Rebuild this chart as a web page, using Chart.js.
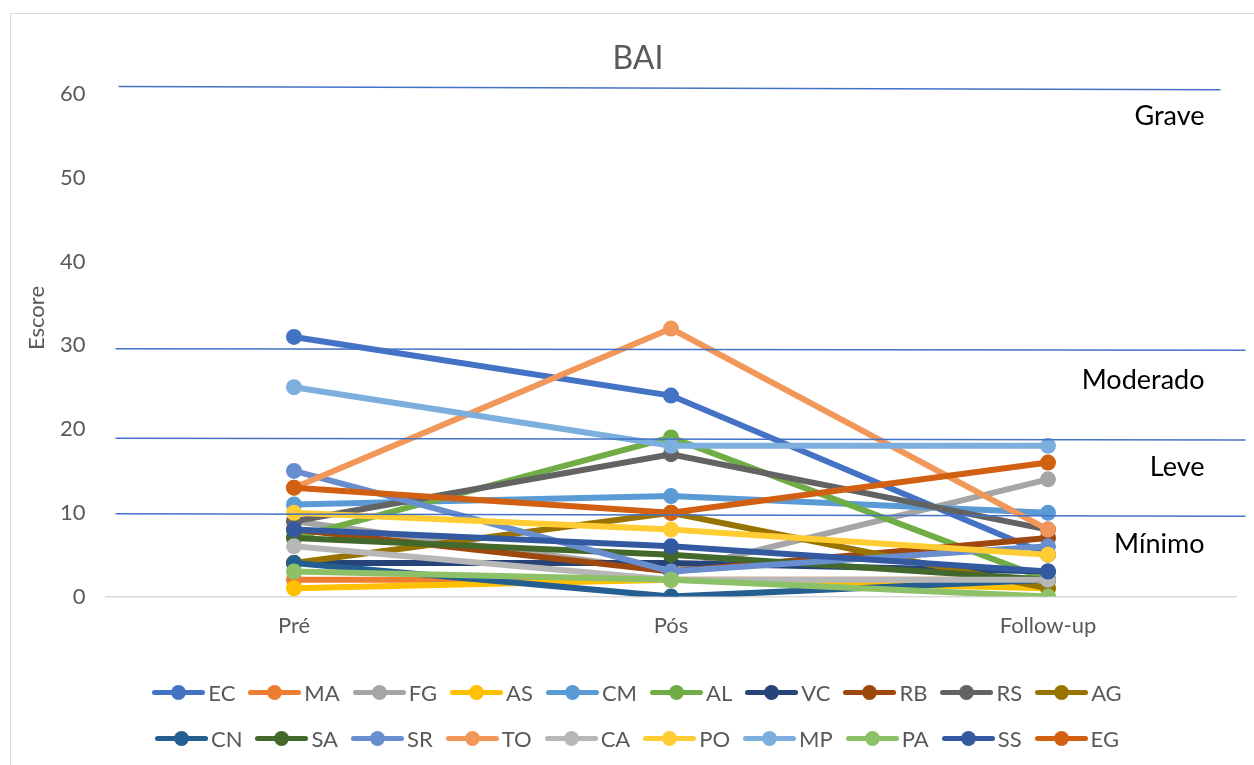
<!DOCTYPE html>
<html lang="pt">
<head>
<meta charset="utf-8">
<title>BAI</title>
<script src="https://cdn.jsdelivr.net/npm/chart.js@4/dist/chart.umd.min.js"></script>
<style>
    html, body {
        margin: 0;
        padding: 0;
        background: #fff;
        font-family: Lato, "Open Sans", sans-serif;
    }
    .chart-card {
        position: relative;
        width: 1254px;
        height: 765px;
        overflow: hidden;
    }
    .chart-frame {
        position: absolute;
        left: 10px;
        top: 13px;
        width: 1300px;
        height: 800px;
        border: 1px solid #d9d9d9;
    }
    #baiChart {
        position: absolute;
        left: 0;
        top: 0;
    }
    .legend {
        position: absolute;
        left: 0;
        top: 669px;
        width: 1274px;
    }
    .legend-row {
        display: flex;
        justify-content: center;
        align-items: center;
        height: 46px;
    }
    .legend-item {
        display: flex;
        align-items: center;
        margin: 0 6.5px;
        color: #595959;
        font-size: 22px;
    }
    .swatch {
        position: relative;
        width: 53px;
        height: 16px;
        margin-right: 3px;
    }
    .swatch .line {
        position: absolute;
        left: 0;
        right: 0;
        top: 5.5px;
        height: 5px;
        border-radius: 2.5px;
    }
    .swatch .dot {
        position: absolute;
        left: 19px;
        top: 0.5px;
        width: 15px;
        height: 15px;
        border-radius: 50%;
    }
</style>
</head>
<body>
<div class="chart-card">
    <div class="chart-frame"></div>
    <canvas id="baiChart" width="1254" height="765"></canvas>
    <div class="legend" id="baiLegend"></div>
</div>

<script>
// Time points
const categories = ['Pré', 'Pós', 'Follow-up'];

// Participants (series)
const participants = ['EC', 'MA', 'FG', 'AS', 'CM', 'AL', 'VC', 'RB', 'RS', 'AG',
                      'CN', 'SA', 'SR', 'TO', 'CA', 'PO', 'MP', 'PA', 'SS', 'EG'];

// BAI scores, one value per participant, in the order above
const scoresPre      = [31, 2, 9, 1, 11, 7, 4, 8, 9, 4, 4, 7, 15, 13, 6, 10, 25, 3, 8, 13];
const scoresPos      = [24, 2, 3, 2, 12, 19, 4, 3, 17, 10, 0, 5, 3, 32, 2, 8, 18, 2, 6, 10];
const scoresFollowUp = [5, 2, 14, 1, 10, 2, 3, 7, 8, 1, 2, 2, 6, 8, 2, 5, 18, 0, 3, 16];

// Y axis ticks
const yTicks = [0, 10, 20, 30, 40, 50, 60];

// Severity bands drawn over the plot (start / end value of each hand drawn line)
const bandLineFrom = [60.9, 29.6, 18.9, 9.9];
const bandLineTo   = [60.5, 29.4, 18.7, 9.6];
const bandNames    = ['Grave', 'Moderado', 'Leve', 'Mínimo'];
const bandNameAt   = [57.3, 25.8, 15.4, 6.2];

const seriesColors = ['#4472C4', '#ED7D31', '#A5A5A5', '#FFC000', '#5B9BD5', '#70AD47',
                      '#264478', '#9E480E', '#636363', '#997300', '#255E91', '#43682B',
                      '#698ED0', '#F1975A', '#B7B7B7', '#FFCD33', '#7CAFDD', '#8CC168',
                      '#335AA1', '#D26012'];

const FONT = 'Lato, "Open Sans", sans-serif';

const datasets = participants.map((name, i) => ({
    label: name,
    data: [scoresPre[i], scoresPos[i], scoresFollowUp[i]],
    borderColor: seriesColors[i],
    backgroundColor: seriesColors[i],
    pointBackgroundColor: seriesColors[i],
    pointBorderWidth: 0,
    pointRadius: 8,
    borderWidth: 6,
    tension: 0,
    fill: false,
    // later series sit on top, like the spreadsheet
    order: participants.length - i
}));

// Title, axis title, severity lines and their names
const bandPlugin = {
    id: 'bands',
    afterDatasetsDraw(chart) {
        const ctx = chart.ctx;
        const area = chart.chartArea;
        const y = chart.scales.y;
        ctx.save();

        ctx.fillStyle = '#595959';
        ctx.textAlign = 'center';
        ctx.textBaseline = 'middle';
        ctx.font = '32px ' + FONT;
        ctx.fillText('BAI', 638, 59);

        ctx.save();
        ctx.translate(37, 318);
        ctx.rotate(-Math.PI / 2);
        ctx.font = '22px ' + FONT;
        ctx.fillText('Escore', 0, 0);
        ctx.restore();

        ctx.strokeStyle = '#4472C4';
        ctx.lineWidth = 1.5;
        bandLineFrom.forEach((v, i) => {
            const x1 = i === 0 ? area.left + 13 : area.left + 10;
            const x2 = i === 0 ? area.right - 16 : area.right + 9;
            ctx.beginPath();
            ctx.moveTo(x1, y.getPixelForValue(v));
            ctx.lineTo(x2, y.getPixelForValue(bandLineTo[i]));
            ctx.stroke();
        });

        ctx.fillStyle = '#000';
        ctx.font = '27px ' + FONT;
        ctx.textAlign = 'right';
        bandNames.forEach((name, i) => {
            ctx.fillText(name, area.right - 32, y.getPixelForValue(bandNameAt[i]));
        });
        ctx.restore();
    }
};

let baiChart = null;

function initializeBaiChart() {
    const ctx = document.getElementById('baiChart').getContext('2d');

    baiChart = new Chart(ctx, {
        type: 'line',
        data: {
            labels: categories,
            datasets: datasets
        },
        options: {
            responsive: false,
            animation: false,
            layout: {
                padding: { left: 0, right: 17.5, top: 94, bottom: 110 }
            },
            plugins: {
                legend: { display: false },
                tooltip: { enabled: false },
                title: { display: false }
            },
            scales: {
                y: {
                    min: 0,
                    max: 60,
                    afterFit: function (scale) {
                        scale.width = 105.5;
                    },
                    afterBuildTicks: function (scale) {
                        scale.ticks = yTicks.map(v => ({ value: v }));
                    },
                    grid: { display: false, drawTicks: false },
                    border: { display: false },
                    ticks: {
                        color: '#595959',
                        padding: 20,
                        font: { family: FONT, size: 22 }
                    }
                },
                x: {
                    offset: true,
                    grid: { display: false, drawTicks: false },
                    border: { display: true, color: '#D9D9D9', width: 1.5 },
                    ticks: {
                        color: '#595959',
                        padding: 16,
                        font: { family: FONT, size: 22 }
                    }
                }
            }
        },
        plugins: [bandPlugin]
    });
}

function buildLegend() {
    const holder = document.getElementById('baiLegend');
    const perRow = 10;
    for (let start = 0; start < participants.length; start += perRow) {
        const row = document.createElement('div');
        row.className = 'legend-row';
        participants.slice(start, start + perRow).forEach((name, k) => {
            const color = seriesColors[start + k];
            const item = document.createElement('div');
            item.className = 'legend-item';
            item.innerHTML =
                '<span class="swatch"><i class="line" style="background:' + color + '"></i>' +
                '<i class="dot" style="background:' + color + '"></i></span>' +
                '<span>' + name + '</span>';
            row.appendChild(item);
        });
        holder.appendChild(row);
    }
}

initializeBaiChart();
buildLegend();
</script>
</body>
</html>
